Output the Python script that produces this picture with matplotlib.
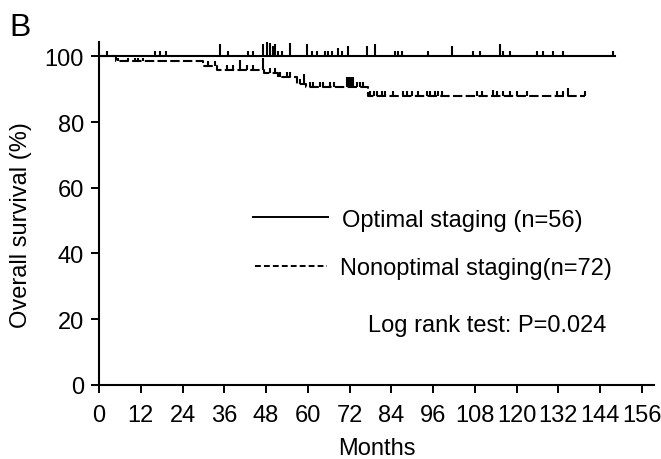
import numpy as np
import matplotlib
matplotlib.use("Agg")
import matplotlib.pyplot as plt

plt.rcParams['font.family'] = ['Liberation Sans', 'DejaVu Sans']

# Kaplan-Meier steps (months, survival %)
opt_times = [0, 148.3]
opt_surv = [100, 100]
non_times = [0, 5, 30, 34, 47.5, 51.5, 57, 59.5, 77.3, 139.7]
non_surv = [100, 98.6, 97.2, 96.0, 95.0, 93.8, 91.5, 90.6, 88.0, 88.0]

# censored observations
opt_cens = [2.2, 16.1, 17.5, 19.3, 34.8, 37.1, 42.8, 44.3, 47.1, 48.3, 49.1, 50.0,
            50.6, 51.4, 52.6, 54.9, 59.8, 61.2, 62.6, 64.9, 65.8, 66.9, 68.7, 69.8,
            71.6, 77.0, 79.3, 85.1, 85.9, 87.1, 94.5, 101.4, 107.5, 109.5, 115.2,
            116.1, 118.1, 125.9, 127.6, 130.5, 133.3, 147.7]
opt_cens_h = [5, 5, 5, 5, 12, 5, 5, 5, 12, 14, 13, 10, 12, 5, 5, 13, 12, 5, 5, 5, 5,
              5, 8, 5, 10, 10, 12, 5, 5, 5, 5, 10, 5, 5, 12, 5, 5, 5, 5, 5, 5, 5]
non_cens = [5.5, 8.4, 10.3, 11.2, 12.6, 31.3, 33.3, 36.8, 38.5, 40.5, 42.5, 44.3,
            47.1, 49.1, 50.6, 52.0, 54.0, 54.9, 57.8, 58.9, 60.6, 61.5, 63.5, 64.4,
            66.4, 67.5, 71.3, 71.8, 72.4, 73.0, 74.1, 75.0, 75.9, 77.9, 79.0, 79.9,
            81.3, 82.2, 84.5, 87.4, 88.5, 89.9, 91.7, 94.3, 95.1, 96.6, 97.4, 98.6,
            108.6, 110.1, 113.2, 114.4, 116.1, 118.1, 120.1, 123.0, 131.6, 133.3,
            134.8, 139.7]
non_cens_h = [3, 3, 3, 3, 3, 5, 5, 5, 5, 10, 5, 5, 12, 5, 5, 5, 5, 5, 5, 10, 5, 5,
              5, 5, 5, 5, 10, 10, 10, 10, 5, 5, 5, 5, 5, 5, 5, 5, 5, 5, 5, 5, 5, 5,
              5, 5, 5, 5, 5, 5, 6, 5, 5, 5, 5, 5, 5, 5, 8, 5]

labels = ["Optimal staging (n=56)", "Nonoptimal staging(n=72)"]
x_ticks = np.arange(0, 157, 12)
y_ticks = np.arange(0, 101, 20)

fig = plt.figure(figsize=(6.61, 4.6), dpi=100)
ax = fig.add_axes([0.1498, 0.1615, 0.8396, 0.745])

px_per_pct = 3.284  # pixel height of 1% in the reference


def censor_base(times, surv, t):
    idx = np.searchsorted(times, t, side='right') - 1
    return np.asarray(surv)[idx]


ax.step(opt_times, opt_surv, where='post', color='black', lw=1.5)
ax.step(non_times, non_surv, where='post', color='black', lw=1.5,
        linestyle=(0, (4.5, 1.6)))

ob = censor_base(opt_times, opt_surv, opt_cens)
ax.vlines(opt_cens, ob, ob + np.array(opt_cens_h) / px_per_pct, color='black', lw=1.5)
nb = censor_base(non_times, non_surv, non_cens)
ax.vlines(non_cens, nb, nb + np.array(non_cens_h) / px_per_pct, color='black', lw=1.5)

# legend drawn by hand
ax.plot([44.3, 65.8], [51.0, 51.0], color='black', lw=1.4)
ax.plot([44.8, 65.5], [36.2, 36.2], color='black', lw=1.4, linestyle=(0, (3, 1.6)))
ax.text(69.7, 48.4, labels[0], fontsize=17, va='baseline')
ax.text(69.3, 33.7, labels[1], fontsize=17, va='baseline')
ax.text(77.3, 16.4, "Log rank test: P=0.024", fontsize=17, va='baseline')

ax.set_xlim(0, 159.5)
ax.set_ylim(0, 104.4)
ax.set_xticks(x_ticks)
ax.set_yticks(y_ticks)
ax.tick_params(axis='both', labelsize=17, width=1.4, length=6)
ax.tick_params(axis='x', pad=8)
ax.tick_params(axis='y', pad=4.8)
for side in ['top', 'right']:
    ax.spines[side].set_visible(False)
for side in ['left', 'bottom']:
    ax.spines[side].set_linewidth(1.5)

ax.set_xlabel("Months", fontsize=17, labelpad=7.5)
ax.set_ylabel("Overall survival (%)", fontsize=17)
ax.yaxis.set_label_coords(-0.121, 0.47)

fig.text(0.014, 0.971, "B", fontsize=23, va='top')

fig.savefig("out.png", dpi=100)
